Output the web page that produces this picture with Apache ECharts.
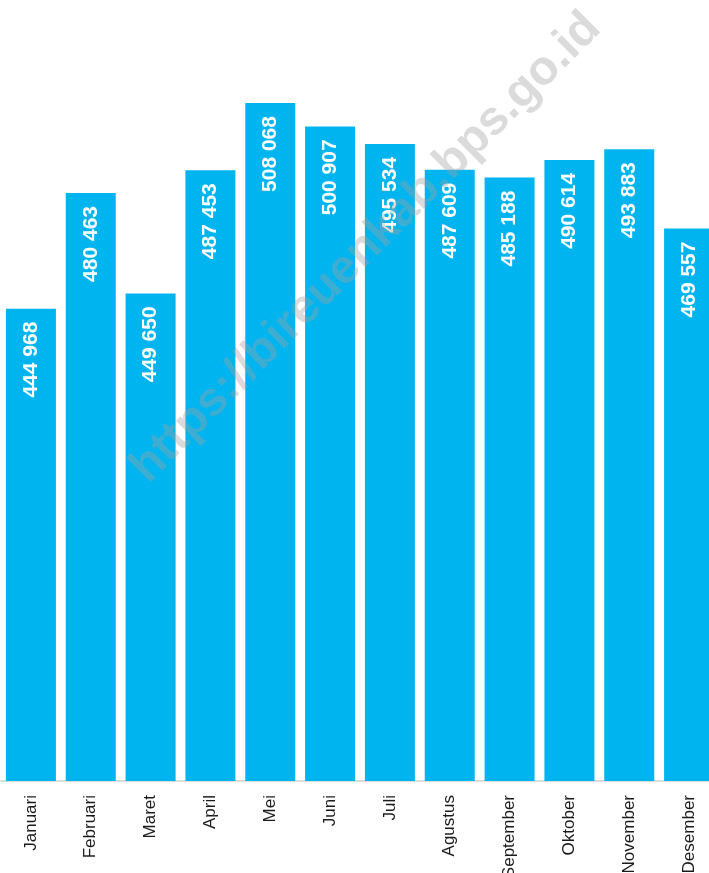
<!DOCTYPE html>
<html>
<head>
<meta charset="utf-8">
<script src="https://cdn.jsdelivr.net/npm/echarts@6/dist/echarts.min.js"></script>
<style>
  html, body { margin: 0; padding: 0; background: #fff; }
  #chart { width: 709px; height: 873px; }
</style>
</head>
<body>
<div id="chart"></div>
<script>
  // data
  const months = ['Januari', 'Februari', 'Maret', 'April', 'Mei', 'Juni', 'Juli',
    'Agustus', 'September', 'Oktober', 'November', 'Desember']
  const values = [444968, 480463, 449650, 487453, 508068, 500907, 495534,
    487609, 485188, 490614, 493883, 469557]

  const fmt = v => String(v).replace(/\B(?=(\d{3})+(?!\d))/g, ' ')

  let chart = echarts.init(document.getElementById('chart'))
  chart.setOption({
    animation: false,
    grid: { left: 1, top: -1, bottom: 92, width: 718, outerBoundsMode: 'none', containLabel: false },
    xAxis: {
      type: 'category',
      data: months,
      axisLine: { lineStyle: { color: '#dcdcdc', width: 2 } },
      axisTick: { show: false },
      axisLabel: {
        rotate: 90,
        margin: 14,
        color: '#1a1a1a',
        fontFamily: 'Liberation Sans, Arial, sans-serif',
        fontSize: 17,
        interval: 0
      }
    },
    yAxis: {
      type: 'value',
      min: 300000,
      max: 540000,
      show: false,
      splitLine: { show: false }
    },
    series: [{
      type: 'bar',
      data: values,
      barWidth: 50,
      itemStyle: { color: '#00b5ef' },
      label: {
        show: true,
        position: 'insideTop',
        rotate: 90,
        align: 'right',
        verticalAlign: 'middle',
        distance: 13,
        color: '#fff',
        fontFamily: 'Liberation Sans, Arial, sans-serif',
        fontWeight: 'bold',
        fontSize: 21,
        formatter: p => fmt(p.value)
      }
    }],
    graphic: [{
      type: 'text',
      x: 366,
      y: 248,
      rotation: Math.PI / 4,
      z: 100,
      silent: true,
      style: {
        text: 'https://bireuenkab.bps.go.id',
        fontFamily: 'Liberation Sans, Arial, sans-serif',
        fontWeight: 'bold',
        fontSize: 48,
        fill: 'rgba(160,160,160,0.38)',
        align: 'center',
        verticalAlign: 'middle'
      }
    }]
  })
</script>
</body>
</html>
